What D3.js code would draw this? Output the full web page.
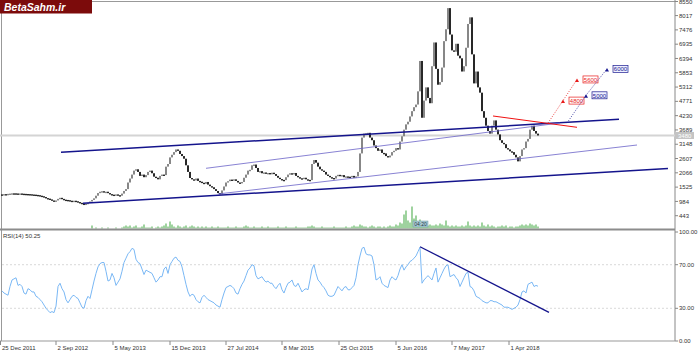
<!DOCTYPE html>
<html>
<head>
<meta charset="utf-8">
<script src="https://cdn.jsdelivr.net/npm/d3@7/dist/d3.min.js"></script>
<style>
  body { margin: 0; background: #fff; }
  svg { display: block; font-family: "Liberation Sans", Arial, sans-serif; }
</style>
</head>
<body>
<svg id="chart" width="700" height="354"></svg>
<script>
// closing prices, one per bar (open = previous close)
const closes = [
  1250,1260,1255,1270,1280,1290, 1290,1285,1280,1285,1275,1270,1265,1260,1255,
  1245,1240,1230,1220,1200,1180,1150,1110, 1090,1060,1020,990, 1020,1080,1120,
  1080,1050,1040, 1030,1010,1000,1010,990, 960,930,900,880, 900,930,980,1040,
  1100,1200,1300,1350, 1370,1330,1350, 1300,1260,1240, 1230,1250,1220,1200,
  1280,1380,1450, 1700,1850,2000,2150, 2200,2100,1950, 2000,1900,1980,
  2100,2150,2050, 1920,1880,1820, 1950,2000,1980, 2300,2400,2650,2750,
  2850,2950,2900, 2780,2700,2600, 2350,2100,1870, 1820,1780,1850,1760,1730,
  1690,1650,1720,1620,1560,1520, 1450,1380,1300,1250, 1400,1550,1700,1750,
  1810,1780,1820,1760, 1700,1680,1720, 1880,2000,2150,2180, 2350,2380,2250,
  2100,2130,2050,2080, 2040,2060,2010,2070,2020, 1950,1880,1830,1800,1790,
  1900,2000,2050,2020,2060, 1950,1900,1860,1850,1880,1820,1800,1790, 2400,2550,
  2450,2300,2200,2150, 2100,2000,1950,1900,1870,1850, 1950,1990,1940,1980,1900,1930,
  1920,1900,1950,1880,1930, 2100,2800,3400, 3550,3500,3580, 3400,3300,3100,3000,
  2900,2950,2820,2800, 2700,2650,2720, 2850,2900,3000,2950, 3250,3450,3700,
  3900,4000,4200, 4400,4550,4650, 5150, 6300, 4150, 4800,5300, 4900,4700,
  6100,7000, 6000,5400, 5500,6050, 7050,7500, 8300, 7300, 6700,6650, 6950,
  6500,6400, 5900,6100, 6800, 7700,7950, 6550, 5450, 5900, 5300,5100,
  4400,4150, 3850,3650, 3550, 3850,4050, 3700,3520, 3300,3200,3150,
  3000,2950,2880, 2850,2750,2650, 2500, 2700, 2950,3000, 3250,3350,
  3700,3850, 3650,3550, 3480
];

const volumes = [
  0,0,0,0,0,0,0,0,0,0,0,0,0,0,0,0,0,0,0,0,0,0,0,0,0,0,0,0,0,0,0,0,0,0,0,0,0,0,0,0,0,0,0,0,
  0,3, 0,1,0,0,1,0,0,1,0,0,0,1,0,0,1, 2,3,2,3,1,2,3,1, 1,2,4,1, 1,1,2,0,1,2,1,2,
  3,5,2,7,4,2,1,3,2,1, 2,3,1,2,3,2,1,2,1,2, 1,2,1,1,2,1,1,2,1,1,
  1,1,2,1,1,1,2,1,1,1,2,3,2,1,1,2,1,1,1,2, 1,1,2,1,1,1,1,2,1,1,1,2,1,1,1,1,2,1,1,1,
  1,1,2,2,3,2,1,1,1,2,1,1,1,1,1,2,1,1,1,1, 1,2,1,1,2,3,2,2,4,3,2,2,1,2,3,2,1,2,2,1,
  2,1,2,3,2,2,4,3,6,5, 14,18,8,6,22,10,13,6,9,5, 4,5,3,4,3,3,4,3,5,4,
  3,8,3,2,3,2,3,2,2,3, 2,3,7,3,2,3,2,3,2,6, 3,2,4,2,3,2,1,2,2,3,
  2,3,1,2,2,1,2,2,3,4, 3,4,3,5,4,3,4,2
];

const rsi = [
  46,44,43,42,50,56,57,58,51,52,50,44,43,48,47,45,45,41,40,38,
  36,33,30,28,26,27,26,32,50,53,48,45,38,35,38,41,42,40,39,35,
  31,30,37,41,39,47,55,62,68,71,72,72,64,55,56,62,58,51,54,57,
  64,72,76,80,82,85,84,75,72,71,66,61,65,64,63,62,58,54,56,59,
  59,66,68,62,70,73,76,77,74,73,68,60,52,45,41,43,42,38,36,35,
  40,42,40,38,37,36,35,33,32,31,38,44,49,50,51,50,48,44,43,48,
  52,55,60,65,67,70,69,60,57,58,59,56,54,55,53,53,50,48,51,53,
  47,44,49,53,54,56,51,50,53,49,45,47,48,47,56,66,70,62,56,54,
  51,49,46,42,41,41,42,46,50,48,46,49,50,47,47,49,51,58,70,78,
  85,86,80,79,79,78,70,56,57,59,53,51,50,49,56,59,57,56,60,66,
  70,65,68,70,73,74,76,78,82,86,53,56,58,60,58,56,62,67,54,58,
  62,66,69,70,59,60,61,58,56,50,54,58,62,63,50,49,46,41,40,39,
  37,36,35,35,37,37,36,36,35,34,33,31,31,31,30,29,30,31,33,38,
  45,46,44,52,53,54,50,51,50.25
];

const priceTicks = [8550, 8017, 7476, 6935, 6394, 5853, 5312, 4771, 4230, 3689, 3148, 2607, 2066, 1525, 984, 443];
const rsiTicks = [100, 70, 30, 0];
const dateLabels = ["25 Dec 2011", "2 Sep 2012", "5 May 2013", "15 Dec 2013", "27 Jul 2014",
                    "8 Mar 2015", "25 Oct 2015", "5 Jun 2016", "7 May 2017", "1 Apr 2018"];
const dateBars = [-1, 27, 55.5, 84, 112, 140, 168.5, 197, 225, 253.5];

// trend lines as [bar, price]
const channelLines = [
  [[29.5, 2843], [308.5, 4092]],
  [[40.5, 913], [333, 2226]]
];
const innerLines = [
  [[102, 2237], [279, 3952]],
  [[108, 1265], [317.5, 3119]]
];
const redLine = [[245.5, 4217], [287.5, 3789]];
const redTargets = [[273, 3950], [280.5, 4800], [287.5, 5600]];
const blueTargets = [[282.5, 3950], [292, 5000], [302.5, 6000]];
const rsiLine = [[209, 86.5], [273.5, 26.3]];

function drawChart() {
  const svg = d3.select("#chart");
  const right = 675;

  const x = d3.scaleLinear().domain([0, 336.5]).range([2, right]);
  const y = d3.scaleLinear().domain([-60, 8550]).range([229, 1.5]);
  const yVol = d3.scaleLinear().domain([0, 25]).range([228.5, 203.5]);
  const yRsi = d3.scaleLinear().domain([0, 100]).range([341, 232]);

  // frame
  svg.append("line").attr("x1", 0).attr("x2", right).attr("y1", 1.5).attr("y2", 1.5)
    .attr("stroke", "#999");
  svg.append("line").attr("x1", 1.5).attr("x2", 1.5).attr("y1", 0).attr("y2", 341)
    .attr("stroke", "#999");
  svg.append("line").attr("x1", right).attr("x2", right).attr("y1", 0).attr("y2", 341)
    .attr("stroke", "#888");
  svg.append("line").attr("x1", 0).attr("x2", right).attr("y1", 341).attr("y2", 341)
    .attr("stroke", "#999");

  // current price line
  const last = closes[closes.length - 1];
  svg.append("line").attr("x1", 0).attr("x2", right)
    .attr("y1", y(last)).attr("y2", y(last))
    .attr("stroke", "#d4d4d4").attr("stroke-width", 2);

  // volume
  svg.append("g").selectAll("line")
    .data(volumes)
    .enter().append("line")
    .attr("x1", (d, i) => x(i)).attr("x2", (d, i) => x(i))
    .attr("y1", yVol(0)).attr("y2", d => yVol(d))
    .attr("stroke", "#4fae4f").attr("stroke-width", 1.1);

  // candles
  svg.append("g").selectAll("rect")
    .data(closes)
    .enter().append("rect")
    .attr("x", (d, i) => x(i) - 0.9)
    .attr("width", 1.8)
    .attr("y", (d, i) => y(Math.max(d, i ? closes[i - 1] : d)))
    .attr("height", (d, i) => Math.max(1.4, Math.abs(y(d) - y(i ? closes[i - 1] : d))))
    .attr("fill", (d, i) => (i && d > closes[i - 1]) ? "#7a7a7a" : "#111");

  const line = d3.line().x(d => x(d[0])).y(d => y(d[1]));

  channelLines.forEach(l => {
    svg.append("path").attr("d", line(l)).attr("fill", "none")
      .attr("stroke", "#14148c").attr("stroke-width", 1.5);
  });
  innerLines.forEach(l => {
    svg.append("path").attr("d", line(l)).attr("fill", "none")
      .attr("stroke", "#6a62c8").attr("stroke-width", 0.8);
  });
  svg.append("path").attr("d", line(redLine)).attr("fill", "none")
    .attr("stroke", "#f01010").attr("stroke-width", 1);

  // projected targets
  function targets(pts, color, fill) {
    svg.append("path").attr("d", line(pts)).attr("fill", "none")
      .attr("stroke", color).attr("stroke-width", 0.8).attr("stroke-dasharray", "1,1.5");
    pts.slice(1).forEach(p => {
      const px = x(p[0]), py = y(p[1]);
      svg.append("path")
        .attr("d", `M${px - 2},${py + 2.5}L${px},${py - 1}L${px + 2},${py + 2.5}Z`)
        .attr("fill", color);
      svg.append("rect").attr("x", px + 6).attr("y", py - 3.5).attr("width", 15).attr("height", 7)
        .attr("fill", fill).attr("stroke", color).attr("stroke-width", 0.7);
      svg.append("text").attr("x", px + 13.5).attr("y", py + 2.2)
        .attr("text-anchor", "middle").attr("font-size", 6).attr("fill", color)
        .text(p[1]);
    });
  }
  targets(redTargets, "#e81c1c", "#fff");
  targets(blueTargets, "#1a1a90", "#eef0ff");

  // volume label
  svg.append("rect").attr("x", x(205.5)).attr("y", 221).attr("width", 15).attr("height", 6)
    .attr("fill", "#a9cbd3").attr("stroke", "#6b97a3").attr("stroke-width", 0.5);
  svg.append("text").attr("x", x(205.5) + 7.5).attr("y", 225.8).attr("text-anchor", "middle")
    .attr("font-size", 5).attr("fill", "#234").text("04:20");

  // price axis
  const pAxis = svg.append("g");
  priceTicks.forEach(t => {
    pAxis.append("line").attr("x1", right).attr("x2", right + 3)
      .attr("y1", y(t)).attr("y2", y(t)).attr("stroke", "#888");
    pAxis.append("text").attr("x", right + 4).attr("y", y(t)).attr("dy", "0.35em")
      .attr("font-size", 6).attr("fill", "#333").text(t);
  });
  pAxis.append("rect").attr("x", right + 1).attr("y", y(last) - 3.5).attr("width", 18).attr("height", 7)
    .attr("fill", "#c4c4c4");
  pAxis.append("text").attr("x", right + 3).attr("y", y(last)).attr("dy", "0.35em")
    .attr("font-size", 6).attr("fill", "#fff").text(last);

  // panel separator
  svg.append("line").attr("x1", 0).attr("x2", right).attr("y1", 229.5).attr("y2", 229.5)
    .attr("stroke", "#8c8c8c").attr("stroke-width", 2);

  // RSI panel
  [70, 30].forEach(t => {
    svg.append("line").attr("x1", 2).attr("x2", right).attr("y1", yRsi(t)).attr("y2", yRsi(t))
      .attr("stroke", "#c8c8c8").attr("stroke-width", 0.7).attr("stroke-dasharray", "2,2");
  });
  rsiTicks.forEach(t => {
    svg.append("line").attr("x1", right).attr("x2", right + 3)
      .attr("y1", yRsi(t)).attr("y2", yRsi(t)).attr("stroke", "#888");
    svg.append("text").attr("x", right + 4).attr("y", yRsi(t)).attr("dy", "0.35em")
      .attr("font-size", 6).attr("fill", "#333").text(t.toFixed(2));
  });
  svg.append("path")
    .datum(rsi)
    .attr("d", d3.line().x((d, i) => x(i)).y(d => yRsi(d)))
    .attr("fill", "none").attr("stroke", "#7ab8f5").attr("stroke-width", 1);
  svg.append("path")
    .attr("d", d3.line().x(d => x(d[0])).y(d => yRsi(d[1]))(rsiLine))
    .attr("fill", "none").attr("stroke", "#14148c").attr("stroke-width", 1.3);
  svg.append("text").attr("x", 3).attr("y", 238).attr("font-size", 6).attr("fill", "#333")
    .text("RSI(14) " + rsi[rsi.length - 1].toFixed(2));

  // time axis
  dateLabels.forEach((lab, k) => {
    const tx = Math.max(0.5, x(dateBars[k]));
    svg.append("line").attr("x1", tx).attr("x2", tx).attr("y1", 341).attr("y2", 345)
      .attr("stroke", "#888");
    svg.append("text").attr("x", tx + 1.5).attr("y", 350).attr("font-size", 6)
      .attr("fill", "#333").text(lab);
  });

  // logo
  svg.append("rect").attr("x", 0).attr("y", 0).attr("width", 92).attr("height", 13.5)
    .attr("fill", "#7c0b0b");
  svg.append("text").attr("x", 4).attr("y", 10.8).attr("font-size", 10.5)
    .attr("font-weight", "bold").attr("font-style", "italic").attr("fill", "#fff")
    .text("BetaSahm.ir");
}

drawChart();
</script>
</body>
</html>
